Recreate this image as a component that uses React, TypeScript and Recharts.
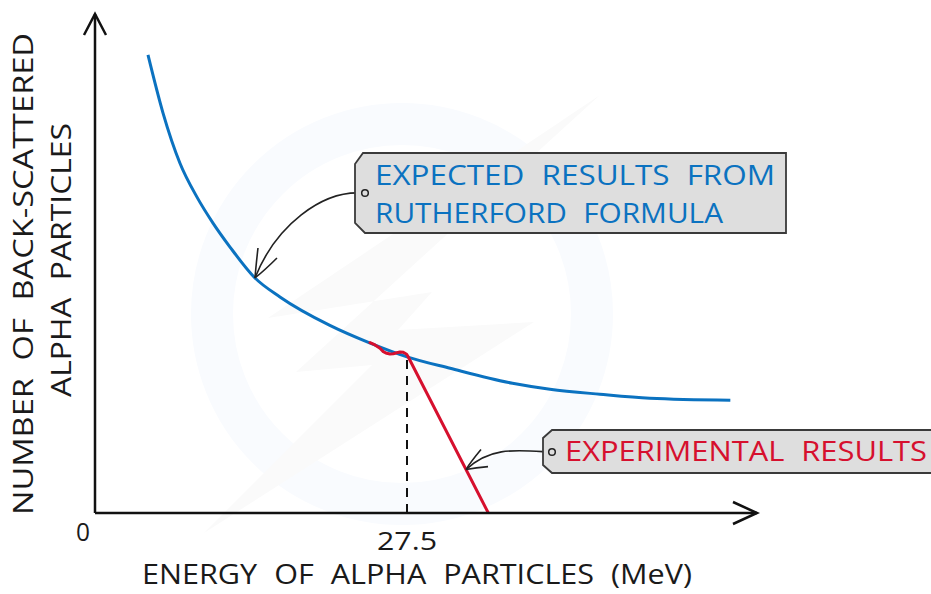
import React from 'react';
import { LineChart, Line, XAxis, YAxis, ReferenceLine, ReferenceDot, Customized } from 'recharts';

// Expected (Rutherford formula) curve
const expectedEnergy = [4.67, 5.99, 7.49, 8.99, 10.4, 11.9, 14.1, 16.3, 20.7, 24.2, 27.5, 31.3, 36.8, 40.1, 44.5, 48.9, 56.0];
const expectedCount = [91.8, 80.2, 70.1, 63.3, 58.1, 53.3, 47.1, 43.3, 37.6, 34.1, 31.3, 29.0, 26.0, 24.8, 23.8, 23.0, 22.6];

// Experimental results curve
const experimentalEnergy = [24.24, 24.68, 25.12, 25.41, 25.71, 26.0, 26.29, 26.59, 26.88, 27.17, 27.47, 27.59, 34.67];
const experimentalCount = [34.13, 33.67, 33.0, 32.32, 32.0, 31.86, 31.92, 32.12, 32.26, 32.2, 31.8, 31.36, 0];

const xTicks = [0, 27.5];
const xTickLabels = ['0', '27.5'];
const X_MAX = 58.35;
const Y_MAX = 100;
const thresholdEnergy = 27.5;
const thresholdCount = 31.3;
const expectedTarget = { x: 14.1, y: 47.1 };
const experimentalTarget = { x: 32.7, y: 8.7 };

const xTitle = 'ENERGY OF ALPHA PARTICLES (MeV)';
const yTitle1 = 'NUMBER OF BACK-SCATTERED';
const yTitle2 = 'ALPHA PARTICLES';
const expectedLabel1 = 'EXPECTED RESULTS FROM';
const expectedLabel2 = 'RUTHERFORD FORMULA';
const experimentalLabel = 'EXPERIMENTAL RESULTS';

const expectedData = expectedEnergy.map((e, i) => ({ energy: e, count: expectedCount[i] }));
const experimentalData = experimentalEnergy.map((e, i) => ({ energy: e, count: experimentalCount[i] }));

const FONT = '"Open Sans", "Liberation Sans", sans-serif';
const FW = 400;
const BLUE = '#0b72c0';
const RED = '#d6102e';

const Watermark = () => (
  <g pointerEvents="none">
    <circle cx={402} cy={314} r={190} fill="none" stroke="#f9fbfe" strokeWidth={42} />
    <polygon points="600,95 268,318 432,292 398,330 534,322 204,533 372,365 296,372" fill="#fafafa" />
  </g>
);

const Titles = () => (
  <g fontFamily={FONT} fontWeight={FW} fill="#1a1a1a" wordSpacing={8}>
    <text x={142} y={584} fontSize={27} textLength={550} lengthAdjust="spacingAndGlyphs">{xTitle}</text>
    <text x={33} y={274} fontSize={28} textAnchor="middle" textLength={482} lengthAdjust="spacingAndGlyphs" transform="rotate(-90, 33, 274)">{yTitle1}</text>
    <text x={71} y={260} fontSize={28} textAnchor="middle" textLength={274} lengthAdjust="spacingAndGlyphs" transform="rotate(-90, 71, 260)">{yTitle2}</text>
  </g>
);

const XTick = (props: any) => {
  const { x, payload } = props;
  const idx = xTicks.indexOf(payload.value);
  const label = xTickLabels[idx] ?? String(payload.value);
  const isZero = payload.value === 0;
  return (
    <text
      x={isZero ? x - 12 : x}
      y={isZero ? 541 : 550}
      fontSize={26}
      fontFamily={FONT}
      fontWeight={FW}
      fill="#1a1a1a"
      textAnchor="middle"
      textLength={isZero ? 14 : 60}
      lengthAdjust="spacingAndGlyphs"
    >
      {label}
    </text>
  );
};

const UpArrow = (props: any) => {
  const { cx, cy } = props;
  return <path d={`M${cx - 11},${cy + 21} L${cx},${cy} L${cx + 11},${cy + 21}`} fill="none" stroke="#111" strokeWidth={2.5} />;
};

const RightArrow = (props: any) => {
  const { cx, cy } = props;
  return <path d={`M${cx - 24},${cy - 11} L${cx},${cy} L${cx - 24},${cy + 11}`} fill="none" stroke="#111" strokeWidth={2.5} />;
};

const ExpectedCallout = (props: any) => {
  const { cx, cy } = props;
  return (
    <g>
      <path d={`M${cx + 3},${cy - 30} Q${cx + 1},${cy - 12} ${cx},${cy} M${cx + 22},${cy - 20} Q${cx + 10},${cy - 8} ${cx},${cy}`} fill="none" stroke="#222" strokeWidth={1.6} />
      <path d={`M361,193 C322,191 276,225 ${cx},${cy}`} fill="none" stroke="#222" strokeWidth={1.6} />
      <polygon points="363,153 786,153 786,233 365,233 355,223 355,164" fill="#dedede" stroke="#3a3a3a" strokeWidth={1.8} />
      <circle cx={365} cy={193} r={3.3} fill="#dedede" stroke="#222" strokeWidth={1.5} />
      <g fontFamily={FONT} fontWeight={FW} fill={BLUE} fontSize={28} wordSpacing={8}>
        <text x={375} y={185} textLength={400} lengthAdjust="spacingAndGlyphs">{expectedLabel1}</text>
        <text x={375} y={223} textLength={348} lengthAdjust="spacingAndGlyphs">{expectedLabel2}</text>
      </g>
    </g>
  );
};

const ExperimentalCallout = (props: any) => {
  const { cx, cy } = props;
  return (
    <g>
      <path d={`M${cx + 15},${cy - 20} Q${cx + 5},${cy - 8} ${cx},${cy} M${cx + 22},${cy - 3} Q${cx + 10},${cy - 2} ${cx},${cy}`} fill="none" stroke="#222" strokeWidth={1.6} />
      <path d={`M548,452 C515,450 490,447 ${cx},${cy}`} fill="none" stroke="#222" strokeWidth={1.6} />
      <polygon points="552,430 945,430 945,473 552,473 543,465 543,438" fill="#dedede" stroke="#3a3a3a" strokeWidth={1.8} />
      <circle cx={552} cy={452} r={3.3} fill="#dedede" stroke="#222" strokeWidth={1.5} />
      <text x={565} y={461} fontFamily={FONT} fontWeight={FW} fill={RED} fontSize={28} wordSpacing={8} textLength={362} lengthAdjust="spacingAndGlyphs">{experimentalLabel}</text>
    </g>
  );
};

export default function App() {
  return (
    <div style={{ position: 'absolute', left: 0, top: 0, width: 931, height: 594, background: '#fff' }}>
      <LineChart width={931} height={594} margin={{ top: 14, right: 174, left: 94, bottom: 41 }}>
        <Customized component={<Watermark />} />
        <XAxis
          type="number"
          dataKey="energy"
          domain={[0, X_MAX]}
          ticks={xTicks}
          tick={<XTick />}
          tickLine={false}
          axisLine={{ stroke: '#111', strokeWidth: 2.5 }}
          height={40}
          allowDataOverflow
        />
        <YAxis
          type="number"
          dataKey="count"
          domain={[0, Y_MAX]}
          tick={false}
          tickLine={false}
          axisLine={{ stroke: '#111', strokeWidth: 2.5 }}
          width={1}
          allowDataOverflow
        />
        <ReferenceLine
          segment={[{ x: thresholdEnergy, y: 0 }, { x: thresholdEnergy, y: thresholdCount }]}
          stroke="#111"
          strokeWidth={2}
          strokeDasharray="9 7"
          ifOverflow="visible"
        />
        <Line data={expectedData} dataKey="count" type="monotone" stroke={BLUE} strokeWidth={3} dot={false} isAnimationActive={false} />
        <Line data={experimentalData} dataKey="count" type="linear" stroke={RED} strokeWidth={3} strokeLinejoin="round" strokeLinecap="round" dot={false} isAnimationActive={false} />
        <ReferenceDot x={0} y={Y_MAX} r={0} ifOverflow="visible" shape={<UpArrow />} />
        <ReferenceDot x={X_MAX} y={0} r={0} ifOverflow="visible" shape={<RightArrow />} />
        <ReferenceDot x={expectedTarget.x} y={expectedTarget.y} r={0} ifOverflow="visible" shape={<ExpectedCallout />} />
        <ReferenceDot x={experimentalTarget.x} y={experimentalTarget.y} r={0} ifOverflow="visible" shape={<ExperimentalCallout />} />
        <Customized component={<Titles />} />
      </LineChart>
    </div>
  );
}
